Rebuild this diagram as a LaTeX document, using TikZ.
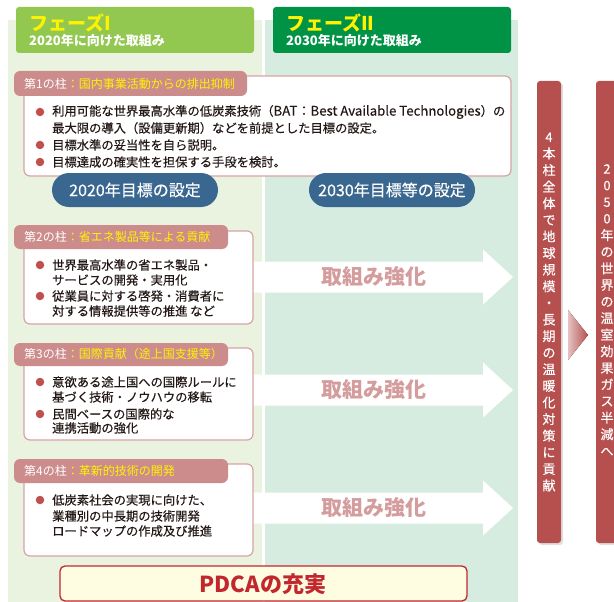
\documentclass[tikz,border=0pt]{standalone}
\usepackage{fontspec}
\setmainfont{Noto Sans CJK JP}
\newfontfamily\medf{Noto Sans CJK JP}[FakeBold=0.35]
\usetikzlibrary{shadows}
\definecolor{bgA}{HTML}{EAF3E0}
\definecolor{bgB}{HTML}{D6ECE0}
\definecolor{hdrA}{HTML}{92C850}
\definecolor{hdrB}{HTML}{009245}
\definecolor{yel}{HTML}{FFF200}
\definecolor{tabc}{HTML}{CC8C8C}
\definecolor{boxline}{HTML}{D9A3A3}
\definecolor{dot}{HTML}{C0504D}
\definecolor{goalc}{HTML}{3A6790}
\definecolor{arwc}{HTML}{D49C9C}
\definecolor{barc}{HTML}{B5504F}
\definecolor{pdcaf}{HTML}{FFFDE1}
\definecolor{pdcal}{HTML}{C1272D}
\definecolor{txt}{HTML}{231815}
\tikzset{
  hdrtitle/.style={anchor=west,inner sep=0,text=yel,font=\bfseries\fontsize{19}{19}\selectfont},
  hdrsub/.style={anchor=west,inner sep=0,text=white,font=\bfseries\fontsize{13}{13}\selectfont},
  pbox/.style={fill=white,draw=boxline,line width=1.2pt,rounded corners=6pt},
  tabbox/.style={fill=tabc,rounded corners=6pt},
  tabtxt/.style={anchor=west,inner sep=0,text=white,font=\fontsize{12}{12}\selectfont},
  bul/.style={circle,fill=dot,inner sep=0,minimum size=8.5pt},
  btxt/.style={anchor=west,inner sep=0,text=txt,font=\medf\fontsize{12.3}{12.3}\selectfont},
  goal/.style={fill=goalc,rounded corners=17pt,minimum width=166pt,minimum height=34pt,inner sep=0,text=white,font=\medf\fontsize{16}{16}\selectfont},
  arwshape/.style={fill=white},
  arwtxt/.style={inner sep=0,text=arwc,font=\bfseries\fontsize{21}{21}\selectfont},
  vbar/.style={fill=barc,rounded corners=3pt,drop shadow={shadow xshift=2pt,shadow yshift=-2pt,opacity=0.25}},
  vtxt/.style={inner sep=0,align=center,text=white,font=\medf\fontsize{13}{16.6}\selectfont},
  pdca/.style={fill=pdcaf,draw=pdcal,line width=1.3pt,rounded corners=5pt},
  pdcatxt/.style={inner sep=0,text=pdcal,font=\bfseries\fontsize{22}{22}\selectfont}
}
\begin{document}
\begin{tikzpicture}[x=1pt,y=-1pt]
\useasboundingbox (0,0) rectangle (614,602);
% phase backgrounds
\fill[bgA] (8,20) rectangle (262,602);
\fill[bgB] (265,20) rectangle (518,602);
% headers
\fill[hdrA,rounded corners=3pt] (16,7) rectangle (254,53);
\node[hdrtitle] (h1t) at (29,23) {フェーズI};
\node[hdrsub] (h1s) at (29,41) {2020年に向けた取組み};
\fill[hdrB,rounded corners=3pt] (273,7) rectangle (511,53);
\node[hdrtitle] (h2t) at (286,23) {フェーズII};
\node[hdrsub] (h2s) at (286,41) {2030年に向けた取組み};

% arrows
\foreach \c/\nm in {277/a2,390/a3,508/a4}{
  \fill[arwshape] (253,\c-15.5) -- (483,\c-15.5) -- (483,\c-27.5) -- (513,\c) -- (483,\c+27.5) -- (483,\c+15.5) -- (253,\c+15.5) -- cycle;
  \node[arwtxt] (\nm) at (374,\c) {取組み強化};
}

% pillar 1
\draw[pbox] (24,76) rectangle (511,176);
\fill[tabbox] (14,71) rectangle (247,96);
\node[tabtxt] (t1) at (24,84) {第1の柱\textcolor{yel}{：国内事業活動からの排出抑制}};
\node[bul] (b11) at (40,112) {};
\node[btxt] (l11) at (52,112) {利用可能な世界最高水準の低炭素技術（{\fontsize{13.2}{12.3}\selectfont BAT：Best Available Technologies}）の};
\node[btxt] (l12) at (52,128) {最大限の導入（設備更新期）などを前提とした目標の設定。};
\node[bul] (b12) at (40,145) {};
\node[btxt] (l13) at (52,145) {目標水準の妥当性を自ら説明。};
\node[bul] (b13) at (40,162) {};
\node[btxt] (l14) at (52,162) {目標達成の確実性を担保する手段を検討。};
\node[goal] (g1) at (135,190) {2020年目標の設定};
\node[goal] (g2) at (392,190) {2030年目標等の設定};

% pillar 2
\draw[pbox] (24,231) rectangle (253,324);
\fill[tabbox] (14,225) rectangle (228,249);
\node[tabtxt] (t2) at (24,237) {第2の柱\textcolor{yel}{：省エネ製品等による貢献}};
\node[bul] (b21) at (40,265) {};
\node[btxt] (l21) at (52,265) {世界最高水準の省エネ製品・};
\node[btxt] (l22) at (52,280) {サービスの開発・実用化};
\node[bul] (b22) at (40,296) {};
\node[btxt] (l23) at (52,296) {従業員に対する啓発・消費者に};
\node[btxt] (l24) at (52,311) {対する情報提供等の推進 など};

% pillar 3
\draw[pbox] (24,348) rectangle (253,440);
\fill[tabbox] (14,343) rectangle (228,366);
\node[tabtxt] (t3) at (24,354) {第3の柱\textcolor{yel}{：国際貢献（途上国支援等）}};
\node[bul] (b31) at (40,382) {};
\node[btxt] (l31) at (52,382) {意欲ある途上国への国際ルールに};
\node[btxt] (l32) at (52,397) {基づく技術・ノウハウの移転};
\node[bul] (b32) at (40,414) {};
\node[btxt] (l33) at (52,414) {民間ベースの国際的な};
\node[btxt] (l34) at (52,428) {連携活動の強化};

% pillar 4
\draw[pbox] (24,464) rectangle (253,556);
\fill[tabbox] (14,459) rectangle (228,483);
\node[tabtxt] (t4) at (24,471) {第4の柱\textcolor{yel}{：革新的技術の開発}};
\node[bul] (b41) at (40,500) {};
\node[btxt] (l41) at (52,500) {低炭素社会の実現に向けた、};
\node[btxt] (l42) at (52,516) {業種別の中長期の技術開発};
\node[btxt] (l43) at (52,531) {ロードマップの作成及び推進};

% PDCA
\draw[pdca] (60,566) rectangle (467,601);
\node[pdcatxt] (pd) at (263,584) {PDCAの充実};

% vertical bars
\fill[vbar] (537,81) rectangle (561,543);
\node[vtxt] (v1) at (549,312) {4\\本\\柱\\全\\体\\で\\地\\球\\規\\模\\・\\長\\期\\の\\温\\暖\\化\\対\\策\\に\\貢\\献};
\fill[left color=barc!35,right color=barc] (568,310) -- (588,335) -- (568,360) -- cycle;
\fill[vbar] (596,81) rectangle (624,543);
\node[vtxt] (v2) at (607,310) {2\\0\\5\\0\\年\\の\\世\\界\\の\\温\\室\\効\\果\\ガ\\ス\\半\\減\\へ};
\end{tikzpicture}
\end{document}
